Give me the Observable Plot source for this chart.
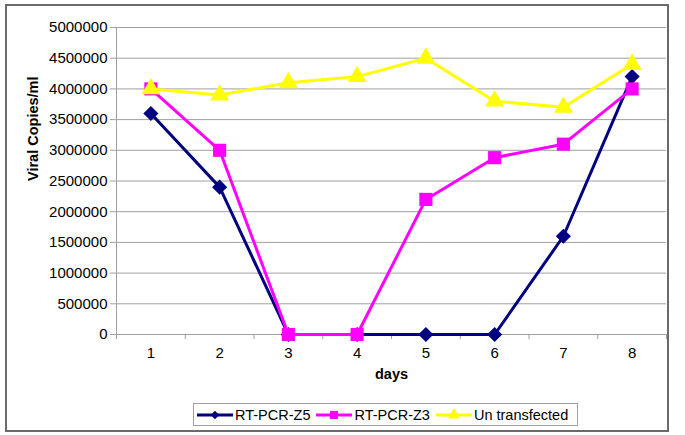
<!DOCTYPE html>
<html>
<head>
<meta charset="utf-8">
<script src="https://cdn.jsdelivr.net/npm/d3@7"></script>
<script src="https://cdn.jsdelivr.net/npm/@observablehq/plot@0.6"></script>
<style>
  html, body { margin: 0; padding: 0; background: #fff; }
  #wrap { position: relative; width: 685px; height: 435px; font-family: "Liberation Sans", Arial, sans-serif; }
  #border { position: absolute; left: 5px; top: 4px; width: 660px; height: 424px; border: 2px solid #6a6a6a; pointer-events: none; }
  #legend { position: absolute; left: 193px; top: 403px; width: 385px; height: 23px; border: 1px solid #a0a0a0; background: #fff;
            display: flex; align-items: center; font-size: 14.5px; color: #000; padding-left: 3px; box-sizing: border-box; }
  #legend .item { display: flex; align-items: center; margin-right: 6px; }
  #legend svg { display: block; margin-right: 2px; }
</style>
</head>
<body>
<div id="wrap"></div>
<script>
const days = [1, 2, 3, 4, 5, 6, 7, 8];
const seriesNames = ["RT-PCR-Z5", "RT-PCR-Z3", "Un transfected"];
const z5 = [3600000, 2400000, 0, 0, 0, 0, 1600000, 4200000];
const z3 = [4000000, 3000000, 0, 0, 2200000, 2880000, 3100000, 4000000];
const untransfected = [4000000, 3900000, 4100000, 4200000, 4500000, 3800000, 3700000, 4400000];
const yTicks = [0, 500000, 1000000, 1500000, 2000000, 2500000, 3000000, 3500000, 4000000, 4500000, 5000000];
const colors = ["#000080", "#ff00ff", "#ffff00"];
const symbols = ["diamond2", "square", "triangle"];
const radii = [6.8, 7.4, 7];

const seriesValues = [z5, z3, untransfected];
const boundaries = d3.range(0.5, days.length + 1, 1);

const lineMarks = [];
seriesValues.forEach((vals, i) => {
  const data = days.map((d, j) => ({day: d, value: vals[j]}));
  lineMarks.push(Plot.line(data, {x: "day", y: "value", stroke: colors[i], strokeWidth: 3}));
  lineMarks.push(Plot.dot(data, {x: "day", y: "value", symbol: () => symbols[i], fill: colors[i], stroke: "none", r: radii[i]}));
});

const chart = Plot.plot({
  width: 685,
  height: 435,
  marginLeft: 116,
  marginRight: 19,
  marginTop: 27,
  marginBottom: 101,
  style: {fontFamily: "'Liberation Sans', Arial, sans-serif", fontSize: "15px", background: "white", color: "#000"},
  x: {type: "linear", domain: [0.5, days.length + 0.5]},
  y: {domain: [0, 5000000]},
  symbol: {type: "identity"},
  marks: [
    Plot.gridY(yTicks, {stroke: "#a0a0a0", strokeOpacity: 1}),
    Plot.ruleX([0.5], {stroke: "#a0a0a0"}),
    Plot.ruleY([0], {stroke: "#a0a0a0"}),
    Plot.axisY(yTicks, {tickSize: 0, tickPadding: 9, tickFormat: d => String(d), label: null, fontSize: 15}),
    Plot.axisY(yTicks, {tickSize: 6, tickFormat: () => "", label: null, stroke: "#a0a0a0"}),
    Plot.axisX(days, {tickSize: 0, tickPadding: 13, tickFormat: d => String(d), label: null, fontSize: 15}),
    Plot.axisX(boundaries, {tickSize: 5, tickFormat: () => "", label: null, stroke: "#a0a0a0"}),
    Plot.text(["Viral Copies/ml"], {frameAnchor: "left", dx: -83, rotate: -90, fontWeight: "bold", fontSize: 14.5}),
    Plot.text(["days"], {frameAnchor: "bottom", dy: 44, fontWeight: "bold", fontSize: 14.5}),
    ...lineMarks
  ]
});

const wrap = document.getElementById("wrap");
wrap.appendChild(chart);

const border = document.createElement("div");
border.id = "border";
wrap.appendChild(border);

const legend = document.createElement("div");
legend.id = "legend";
const d3symbols = [d3.symbolDiamond2, d3.symbolSquare, d3.symbolTriangle];
const legendSizes = [45, 64, 64];
seriesNames.forEach((name, i) => {
  const item = document.createElement("div");
  item.className = "item";
  const sw = d3.create("svg").attr("width", 36).attr("height", 14);
  sw.append("line").attr("x1", 0).attr("x2", 36).attr("y1", 7).attr("y2", 7).attr("stroke", colors[i]).attr("stroke-width", 3);
  sw.append("path").attr("d", d3.symbol(d3symbols[i], legendSizes[i])()).attr("transform", "translate(18,7)").attr("fill", colors[i]);
  item.appendChild(sw.node());
  const label = document.createElement("span");
  label.textContent = name;
  item.appendChild(label);
  legend.appendChild(item);
});
wrap.appendChild(legend);
</script>
</body>
</html>
